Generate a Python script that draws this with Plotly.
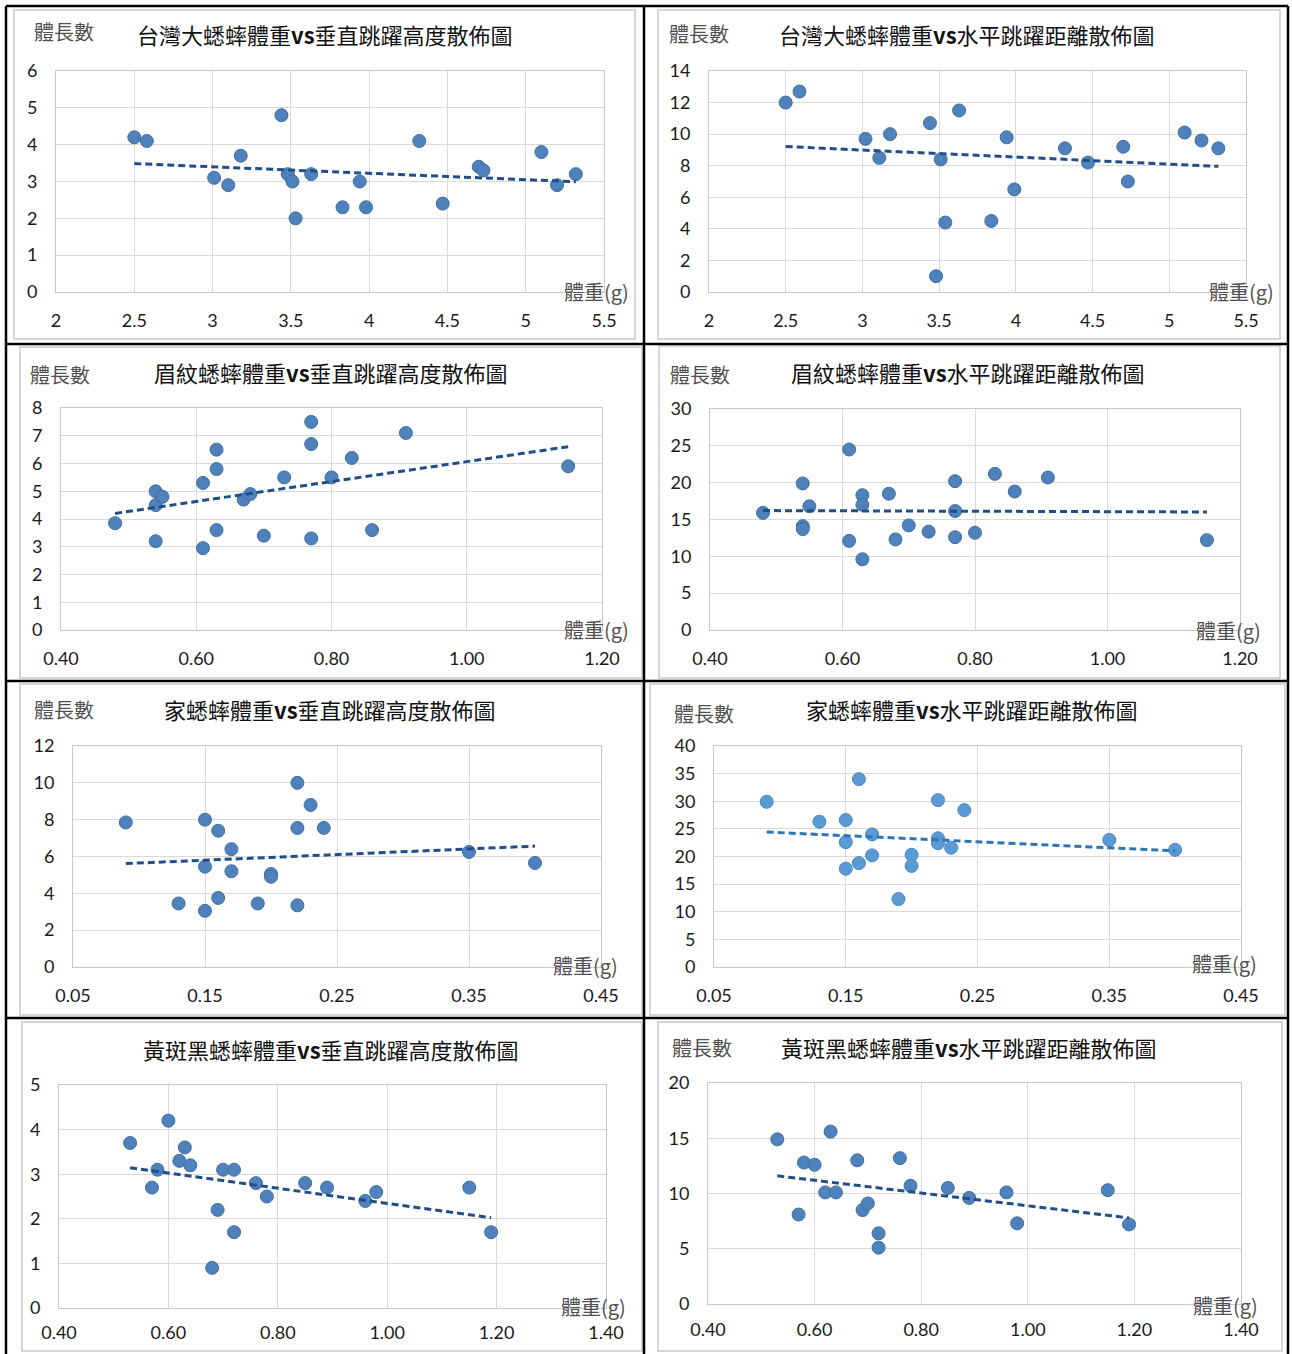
import numpy as np
import plotly.graph_objects as go

W, H = 1292, 1354

# ---------------- data ----------------
# 台灣大蟋蟀
tw_v_x = [2.50, 2.58, 3.01, 3.10, 3.18, 3.44, 3.48, 3.51, 3.53, 3.63, 3.83, 3.94, 3.98, 4.32, 4.47, 4.70, 4.73, 5.10, 5.20, 5.32]
tw_v_y = [4.2, 4.1, 3.1, 2.9, 3.7, 4.8, 3.2, 3.0, 2.0, 3.2, 2.3, 3.0, 2.3, 4.1, 2.4, 3.4, 3.3, 3.8, 2.9, 3.2]
tw_h_x = [2.50, 2.59, 3.02, 3.11, 3.18, 3.44, 3.48, 3.51, 3.54, 3.63, 3.84, 3.94, 3.99, 4.32, 4.47, 4.70, 4.73, 5.10, 5.21, 5.32]
tw_h_y = [12.0, 12.7, 9.7, 8.5, 10.0, 10.7, 1.0, 8.4, 4.4, 11.5, 4.5, 9.8, 6.5, 9.1, 8.2, 9.2, 7.0, 10.1, 9.6, 9.1]

# 眉紋蟋蟀
mw_v_x = [0.48, 0.54, 0.54, 0.54, 0.55, 0.61, 0.61, 0.63, 0.63, 0.63, 0.67, 0.68, 0.70, 0.73, 0.77, 0.77, 0.77, 0.80, 0.83, 0.86, 0.91, 1.15]
mw_v_y = [3.85, 5.0, 4.5, 3.2, 4.8, 5.3, 2.95, 6.5, 5.8, 3.6, 4.7, 4.9, 3.4, 5.5, 7.5, 6.7, 3.3, 5.5, 6.2, 3.6, 7.1, 5.9]
mw_h_x = [0.48, 0.54, 0.54, 0.54, 0.55, 0.61, 0.61, 0.63, 0.63, 0.63, 0.67, 0.68, 0.70, 0.73, 0.77, 0.77, 0.77, 0.80, 0.83, 0.86, 0.91, 1.15]
mw_h_y = [15.9, 19.9, 14.1, 13.7, 16.8, 24.5, 12.1, 18.3, 17.0, 9.6, 18.5, 12.3, 14.2, 13.35, 20.2, 16.15, 12.6, 13.2, 21.2, 18.8, 20.7, 12.2]

# 家蟋蟀
hc_v_x = [0.09, 0.13, 0.15, 0.15, 0.15, 0.16, 0.16, 0.17, 0.17, 0.19, 0.20, 0.20, 0.22, 0.22, 0.22, 0.23, 0.24, 0.35, 0.40]
hc_v_y = [7.85, 3.45, 8.0, 5.45, 3.05, 7.4, 3.75, 6.4, 5.2, 3.45, 5.05, 4.9, 10.0, 7.55, 3.35, 8.8, 7.55, 6.25, 5.65]
hc_h_x = [0.09, 0.13, 0.15, 0.15, 0.15, 0.16, 0.16, 0.17, 0.17, 0.19, 0.20, 0.20, 0.22, 0.22, 0.22, 0.23, 0.24, 0.35, 0.40]
hc_h_y = [29.9, 26.3, 26.6, 22.6, 17.8, 34.0, 18.8, 24.0, 20.2, 12.3, 20.3, 18.3, 30.2, 23.3, 22.4, 21.6, 28.4, 23.0, 21.2]

# 黃斑黑蟋蟀
yb_v_x = [0.53, 0.57, 0.58, 0.60, 0.62, 0.63, 0.64, 0.68, 0.69, 0.70, 0.72, 0.72, 0.76, 0.78, 0.85, 0.89, 0.96, 0.98, 1.15, 1.19]
yb_v_y = [3.7, 2.7, 3.1, 4.2, 3.3, 3.6, 3.2, 0.9, 2.2, 3.1, 3.1, 1.7, 2.8, 2.5, 2.8, 2.7, 2.4, 2.6, 2.7, 1.7]
yb_h_x = [0.53, 0.57, 0.58, 0.60, 0.62, 0.63, 0.64, 0.68, 0.69, 0.70, 0.72, 0.72, 0.76, 0.78, 0.85, 0.89, 0.96, 0.98, 1.15, 1.19]
yb_h_y = [14.9, 8.1, 12.8, 12.6, 10.1, 15.6, 10.1, 13.0, 8.5, 9.1, 6.4, 5.1, 13.2, 10.7, 10.5, 9.6, 10.1, 7.3, 10.3, 7.2]

titles = [
    "台灣大蟋蟀體重<b>vs</b>垂直跳躍高度散佈圖",
    "台灣大蟋蟀體重<b>vs</b>水平跳躍距離散佈圖",
    "眉紋蟋蟀體重<b>vs</b>垂直跳躍高度散佈圖",
    "眉紋蟋蟀體重<b>vs</b>水平跳躍距離散佈圖",
    "家蟋蟀體重<b>vs</b>垂直跳躍高度散佈圖",
    "家蟋蟀體重<b>vs</b>水平跳躍距離散佈圖",
    "黃斑黑蟋蟀體重<b>vs</b>垂直跳躍高度散佈圖",
    "黃斑黑蟋蟀體重<b>vs</b>水平跳躍距離散佈圖",
]
y_label = "體長數"
x_label = "體重(g)"

# ---------------- layout config (pixel positions) ----------------
panels = [
    dict(x=tw_v_x, y=tw_v_y, px=(56, 604), py=(71, 292), xr=[2, 5.5], x0=2, xd=0.5, xf="",
         yr=[0, 6], yd=1, t=(325, 34), yl=(32, 31), xl=(631, 291), light=False, xs=12),
    dict(x=tw_h_x, y=tw_h_y, px=(709, 1246), py=(71, 292), xr=[2, 5.5], x0=2, xd=0.5, xf="",
         yr=[0, 14], yd=2, t=(967, 34), yl=(667, 33), xl=(1276, 291), light=False, xs=12),
    dict(x=mw_v_x, y=mw_v_y, px=(61, 602), py=(408, 630), xr=[0.4, 1.2], x0=0.4, xd=0.2, xf=".2f",
         yr=[0, 8], yd=1, t=(331, 372), yl=(28, 374), xl=(631, 629), light=False, xs=12),
    dict(x=mw_h_x, y=mw_h_y, px=(710, 1240), py=(409, 630), xr=[0.4, 1.2], x0=0.4, xd=0.2, xf=".2f",
         yr=[0, 30], yd=5, t=(968, 372), yl=(668, 374), xl=(1263, 630), light=False, xs=12),
    dict(x=hc_v_x, y=hc_v_y, px=(73, 601), py=(746, 967), xr=[0.05, 0.45], x0=0.05, xd=0.1, xf=".2f",
         yr=[0, 12], yd=2, t=(330, 709), yl=(32, 709), xl=(620, 965), light=False, xs=12),
    dict(x=hc_h_x, y=hc_h_y, px=(714, 1241), py=(746, 967), xr=[0.05, 0.45], x0=0.05, xd=0.1, xf=".2f",
         yr=[0, 40], yd=5, t=(972, 709), yl=(672, 713), xl=(1259, 964), light=True, xs=12),
    dict(x=yb_v_x, y=yb_v_y, px=(59, 606), py=(1085, 1308), xr=[0.4, 1.4], x0=0.4, xd=0.2, xf=".2f",
         yr=[0, 5], yd=1, t=(331, 1049), yl=None, xl=(628, 1306), light=False, xs=8),
    dict(x=yb_h_x, y=yb_h_y, px=(708, 1241), py=(1083, 1304), xr=[0.4, 1.4], x0=0.4, xd=0.2, xf=".2f",
         yr=[0, 20], yd=5, t=(969, 1047), yl=(670, 1047), xl=(1260, 1305), light=False, xs=9),
]

TICK_FONT = dict(family="Lato, Liberation Sans, sans-serif", size=18, color="#1a1a1a")
CJK = "Noto Sans CJK TC, Noto Sans CJK SC, sans-serif"

fig = go.Figure()
layout = dict(
    template="none",
    width=W, height=H, autosize=False,
    margin=dict(l=0, r=0, t=0, b=0, pad=0, autoexpand=False),
    paper_bgcolor="white", plot_bgcolor="white",
    showlegend=False,
)
annotations = []
shapes = []


def fx(px):
    return px / W


def fy(py):
    return 1 - py / H


for i, p in enumerate(panels):
    k = "" if i == 0 else str(i + 1)
    xa, ya = "x" + k, "y" + k
    marker_col = "#5b9bd5" if p["light"] else "#4f81bd"
    edge_col = "#4a86c5" if p["light"] else "#41719c"
    trend_col = "#2e75b6" if p["light"] else "#1f4e89"

    # trendline: linear least-squares fit of the series
    xs = np.array(p["x"], dtype=float)
    ys = np.array(p["y"], dtype=float)
    slope, icpt = np.polyfit(xs, ys, 1)
    tx = np.array([xs.min(), xs.max()])
    ty = slope * tx + icpt

    fig.add_trace(go.Scatter(
        x=p["x"], y=p["y"], mode="markers", xaxis=xa, yaxis=ya,
        marker=dict(size=13, color=marker_col, line=dict(color=edge_col, width=1)),
        cliponaxis=False, hoverinfo="x+y"))
    fig.add_trace(go.Scatter(
        x=tx, y=ty, mode="lines", xaxis=xa, yaxis=ya,
        line=dict(color=trend_col, width=3, dash="7px,4px"), hoverinfo="skip"))

    layout["xaxis" + k] = dict(
        domain=[fx(p["px"][0]), fx(p["px"][1])], anchor=ya, automargin=False,
        range=p["xr"], tickmode="linear", tick0=p["x0"], dtick=p["xd"], tickformat=p["xf"],
        showgrid=True, gridcolor="#d9d9d9", gridwidth=1,
        showline=True, linecolor="#c8c8c8", linewidth=1, mirror=True,
        zeroline=False, ticks="", tickfont=TICK_FONT, ticklabelstandoff=p["xs"], fixedrange=True)
    layout["yaxis" + k] = dict(
        domain=[fy(p["py"][1]), fy(p["py"][0])], anchor=xa, automargin=False,
        range=p["yr"], tickmode="linear", tick0=0, dtick=p["yd"],
        showgrid=True, gridcolor="#d9d9d9", gridwidth=1,
        showline=True, linecolor="#c8c8c8", linewidth=1, mirror=True,
        zeroline=False, ticks="", tickfont=TICK_FONT, ticklabelstandoff=14, fixedrange=True)

    annotations.append(dict(
        text=titles[i], x=fx(p["t"][0]), y=fy(p["t"][1]), xref="paper", yref="paper",
        xanchor="center", yanchor="middle", showarrow=False,
        font=dict(family=CJK, size=22, color="#111111")))
    if p["yl"] is not None:
        annotations.append(dict(
            text=y_label, x=fx(p["yl"][0]), y=fy(p["yl"][1]), xref="paper", yref="paper",
            xanchor="left", yanchor="middle", showarrow=False,
            font=dict(family=CJK, size=20, color="#505050")))
    annotations.append(dict(
        text=x_label, x=fx(p["xl"][0]), y=fy(p["xl"][1]), xref="paper", yref="paper",
        xanchor="right", yanchor="middle", showarrow=False,
        font=dict(family=CJK, size=20, color="#505050")))

# chart frames (light gray) for each embedded chart
frames = [
    (14, 10, 635, 339), (658, 10, 1280, 339),
    (20, 347, 642, 678), (659, 346, 1280, 678),
    (20, 684, 642, 1015), (650, 684, 1285, 1015),
    (22, 1022, 642, 1351), (658, 1022, 1282, 1351),
]
for (x0, y0, x1, y1) in frames:
    shapes.append(dict(type="rect", xref="paper", yref="paper",
                       x0=fx(x0), x1=fx(x1), y0=fy(y1), y1=fy(y0),
                       line=dict(color="#c9c9c9", width=1.5), layer="below"))

# table grid (black)
for xv in (6, 644, 1288):
    shapes.append(dict(type="line", xref="paper", yref="paper",
                       x0=fx(xv), x1=fx(xv), y0=fy(1354), y1=fy(6),
                       line=dict(color="black", width=2.5)))
for yv in (6, 344, 681, 1018):
    shapes.append(dict(type="line", xref="paper", yref="paper",
                       x0=fx(6), x1=fx(1288), y0=fy(yv), y1=fy(yv),
                       line=dict(color="black", width=2.5)))

layout["annotations"] = annotations
layout["shapes"] = shapes
fig.update_layout(**layout)

fig.write_html("out.html")
